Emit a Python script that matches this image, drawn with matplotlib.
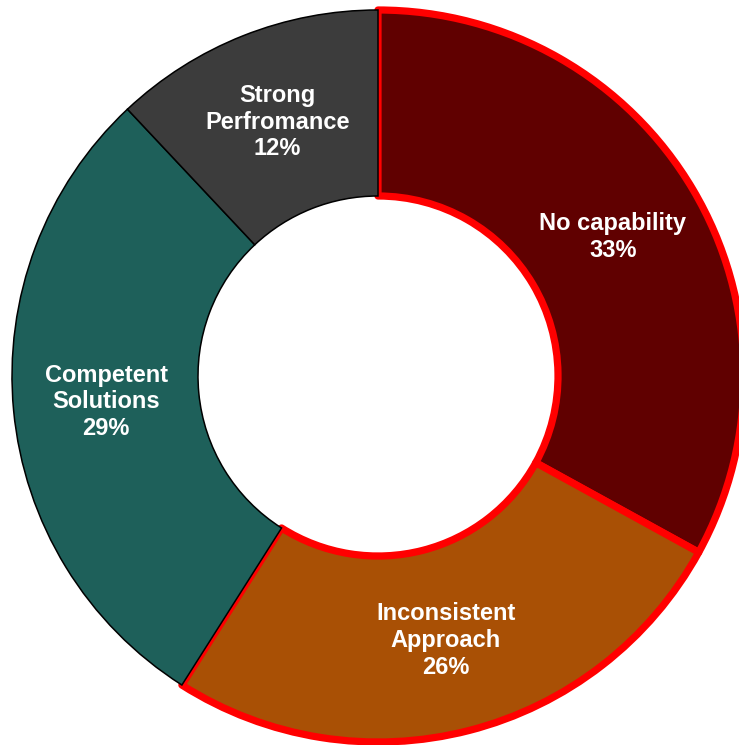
import numpy as np
import matplotlib
matplotlib.use("Agg")
import matplotlib.pyplot as plt

plt.rcParams['font.family'] = ['Liberation Sans', 'DejaVu Sans']

# maturity split, clockwise from 12 o'clock
labels = ['No capability', 'Inconsistent\nApproach', 'Competent\nSolutions', 'Strong\nPerfromance']
shares = [33, 26, 29, 12]
colors = ['#600000', '#A95005', '#1E605A', '#3C3C3C']
edges = ['#FF0000', '#FF0000', '#000000', '#000000']

W, H = 739, 745
fig = plt.figure(figsize=(W / 100, H / 100), dpi=100)
ax = fig.add_axes([0, 0, 1, 1])

cx, cy = 378, H - 376
R = 366
ring = (R - 180) / R

wedges, _ = ax.pie(shares, colors=colors, startangle=90, counterclock=False,
                   radius=R, center=(cx, cy),
                   wedgeprops=dict(width=R * ring))

# red-outlined slices sit underneath the black-outlined ones
for w, ec in zip(wedges, edges):
    w.set_edgecolor(ec)
    if ec == '#FF0000':
        w.set_linewidth(5.2)
        w.set_zorder(1)
        w.set_joinstyle('round')
    else:
        w.set_linewidth(1.1)
        w.set_zorder(2)

rmid = R - (R * ring) / 2
for w, lab, s in zip(wedges, labels, shares):
    ang = np.deg2rad((w.theta1 + w.theta2) / 2)
    x = cx + rmid * np.cos(ang)
    y = cy + rmid * np.sin(ang)
    ax.text(x, y, f'{lab}\n{s}%', ha='center', va='center', color='white',
            fontsize=17, fontweight='bold', linespacing=1.2, zorder=3)

ax.set_xlim(0, W)
ax.set_ylim(0, H)
ax.set_aspect('equal')
ax.axis('off')

fig.savefig('out.png', dpi=100)
